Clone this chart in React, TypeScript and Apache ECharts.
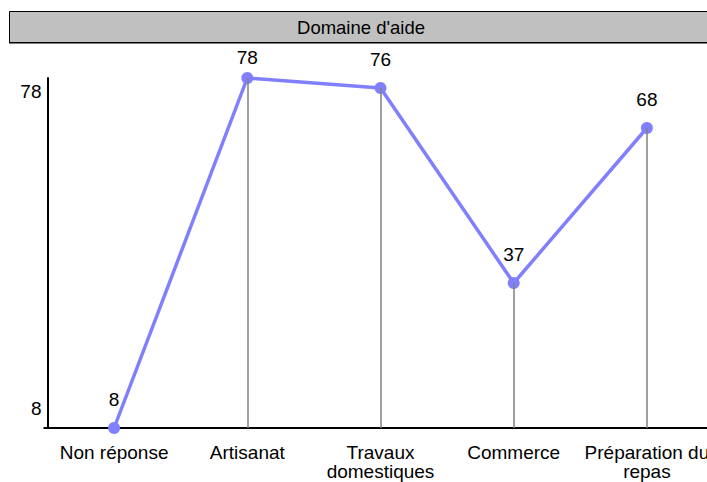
import React, { useEffect, useRef } from "react";
import * as echarts from "echarts";

const categories = ["Non réponse", "Artisanat", "Travaux\ndomestiques", "Commerce", "Préparation du\nrepas"];
const values = [8, 78, 76, 37, 68];
const yTickLabels = [8, 78];
const titleText = "Domaine d'aide";

const FONT = "'Liberation Sans', Arial, sans-serif";
const FS = 19;

export default function App() {
  const ref = useRef<HTMLDivElement>(null);
  useEffect(() => {
    if (!ref.current) return;
    const chart = echarts.init(ref.current, null, { renderer: "svg" });
    const yMin = Math.min(...yTickLabels);
    const yMax = Math.max(...yTickLabels);
    const dropLines = values.map((v, i) => [
      { coord: [i, yMin] },
      { coord: [i, v] },
    ]);
    const seriesData = values.map((v) =>
      v === yMax ? { value: v, label: { distance: 5 } } : { value: v }
    );
    chart.setOption({
      animation: false,
      textStyle: { fontFamily: FONT },
      graphic: [
        {
          type: "rect",
          shape: { x: 9.5, y: 11.5, width: 720, height: 31 },
          style: { fill: "#c0c0c0", stroke: "#000", lineWidth: 1 },
          z: 0,
        },
        {
          type: "line",
          shape: { x1: 9, y1: 43, x2: 720, y2: 43 },
          style: { stroke: "#000", lineWidth: 1 },
        },
        {
          type: "text",
          x: 361,
          y: 27.5,
          style: {
            text: titleText,
            fill: "#000",
            font: `18.5px ${FONT}`,
            align: "center",
            verticalAlign: "middle",
          },
        },
      ],
      grid: { left: 47.5, top: 78, width: 666, height: 350, containLabel: false },
      xAxis: {
        type: "category",
        data: categories,
        boundaryGap: true,
        axisLine: { show: true, lineStyle: { color: "#000", width: 2 } },
        axisTick: { show: false },
        axisLabel: {
          interval: 0,
          color: "#000",
          fontSize: FS,
          lineHeight: 19,
          margin: 15,
          fontFamily: FONT,
        },
        splitLine: { show: false },
      },
      yAxis: {
        type: "value",
        min: yMin,
        max: yMax,
        axisLine: { show: true, lineStyle: { color: "#000", width: 2 } },
        axisTick: { show: true, length: 4, customValues: [yMin], lineStyle: { color: "#000", width: 2 } },
        splitLine: { show: false },
        axisLabel: {
          customValues: yTickLabels,
          color: "#000",
          fontSize: FS,
          margin: 6,
          fontFamily: FONT,
          formatter: (v: number) => (v === yMax ? `{t|${v}}` : `{b|${v}}`),
          rich: {
            t: { fontSize: FS, fontFamily: FONT, color: "#000", padding: [26, 0, 0, 0] },
            b: { fontSize: FS, fontFamily: FONT, color: "#000", padding: [0, 0, 40, 0] },
          },
        },
      },
      series: [
        {
          type: "line",
          data: [],
          z: 1,
          silent: true,
          markLine: {
            silent: true,
            symbol: ["none", "none"],
            label: { show: false },
            lineStyle: { color: "#808080", width: 1.5, type: "solid" },
            data: dropLines,
          },
        },
        {
          type: "line",
          data: seriesData,
          z: 3,
          symbol: "circle",
          symbolSize: 12,
          lineStyle: { color: "#8080ff", width: 3.5 },
          itemStyle: { color: "#8080ff" },
          label: {
            show: true,
            position: "top",
            distance: 13,
            color: "#000",
            fontSize: FS,
            fontFamily: FONT,
          },
        },
      ],
    });
    return () => chart.dispose();
  }, []);
  return (
    <div style={{ width: 707, height: 482, position: "absolute", left: 0, top: 0, overflow: "hidden" }}>
      <div ref={ref} style={{ width: 720, height: 482 }} />
    </div>
  );
}
